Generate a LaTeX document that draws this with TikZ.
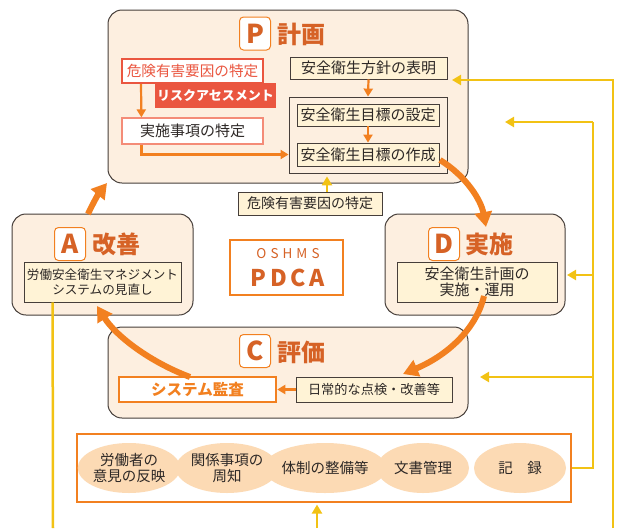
\documentclass[tikz,border=0pt]{standalone}
\usepackage{fontspec}
\setmainfont{Noto Sans CJK JP}
\usetikzlibrary{arrows.meta,shapes.geometric}
\definecolor{peach}{RGB}{253,239,224}
\definecolor{ylw}{RGB}{255,243,214}
\definecolor{ellc}{RGB}{252,218,180}
\definecolor{orng}{RGB}{242,128,32}
\definecolor{labc}{RGB}{214,98,38}
\definecolor{redc}{RGB}{234,86,64}
\definecolor{salm}{RGB}{244,140,120}
\definecolor{yel}{RGB}{242,194,20}
\definecolor{bgray}{RGB}{70,62,58}
\definecolor{txt}{RGB}{45,40,38}
\tikzset{
  phase/.style={draw=bgray, fill=peach, rounded corners=14pt, line width=1pt, inner sep=0pt},
  lab/.style={draw=orng, fill=white, rounded corners=4pt, line width=1pt, text=labc, font=\bfseries\fontsize{26}{26}\selectfont, minimum width=31pt, minimum height=33pt, inner sep=0pt},
  ttl/.style={text=labc, font=\bfseries\fontsize{24}{24}\selectfont, anchor=west, inner sep=0pt},
  ybox/.style={draw=bgray, fill=ylw, line width=0.8pt, inner sep=0pt, text=txt, font=\fontsize{15}{16}\selectfont, align=center},
  ell/.style={ellipse, fill=ellc, minimum width=92pt, minimum height=50pt, inner sep=0pt, text=txt, font=\fontsize{14.5}{16.5}\selectfont, align=center},
  oarr/.style={draw=orng, line width=2.2pt, -{Triangle[length=8pt,width=9pt]}},
  big/.style={draw=orng, line width=6pt, -{Triangle[length=15pt,width=17pt]}},
  yarr/.style={draw=yel, line width=2.5pt, -{Triangle[length=9pt,width=10pt]}},
  yline/.style={draw=yel, line width=2.5pt}
}
\begin{document}
\begin{tikzpicture}[x=1pt,y=-1pt]
\useasboundingbox (0,0) rectangle (619,528);
% phase boxes
\node[phase, minimum width=360pt, minimum height=173pt] (P) at (288,96.5) {};
\node[phase, minimum width=181pt, minimum height=101pt] (A) at (102.5,264.5) {};
\node[phase, minimum width=180pt, minimum height=101pt] (D) at (475,264.5) {};
\node[phase, minimum width=360pt, minimum height=91pt] (C) at (288,372.5) {};
% titles
\node[lab] (Pl) at (255,33.5) {P};
\node[ttl] (Pt) at (277,34) {計画};
\node[lab] (Al) at (70,244) {A};
\node[ttl] (At) at (92,244) {改善};
\node[lab] (Dl) at (444,244) {D};
\node[ttl] (Dt) at (465,244) {実施};
\node[lab] (Cl) at (255,351) {C};
\node[ttl] (Ct) at (277,352) {評価};
% P contents
\node[draw=redc, fill=white, line width=2pt, text=redc, font=\fontsize{14.6}{14.6}\selectfont, minimum width=141pt, minimum height=24pt, inner sep=0pt] (k1) at (192.5,71) {危険有害要因の特定};
\node[fill=redc, text=white, font=\bfseries\fontsize{13}{13}\selectfont, minimum width=121pt, minimum height=25pt, inner sep=0pt] (risk) at (215.5,95.5) {リスクアセスメント};
\node[draw=salm, fill=white, line width=1.2pt, text=txt, font=\fontsize{15}{15}\selectfont, minimum width=141pt, minimum height=26pt, inner sep=0pt] (jis) at (192.5,131) {実施事項の特定};
\node[ybox, minimum width=157pt, minimum height=22pt] (hos) at (368.5,68) {安全衛生方針の表明};
\node[draw=bgray, line width=0.8pt, minimum width=158pt, minimum height=76pt, inner sep=0pt] (grp) at (368,135) {};
\node[ybox, minimum width=142pt, minimum height=22pt] (set) at (368,115) {安全衛生目標の設定};
\node[ybox, minimum width=142pt, minimum height=23pt] (sak) at (368,154.5) {安全衛生目標の作成};
\node[ybox, minimum width=144pt, minimum height=23pt, font=\fontsize{14}{14}\selectfont] (k2) at (310,203.5) {危険有害要因の特定};
\draw[oarr] ([xshift=20pt]k1.south west) -- ([xshift=20pt]jis.north west);
\draw[oarr] ([xshift=20pt]jis.south west) |- (grp.west |- sak.center);
\draw[oarr] (hos.south) -- (grp.north);
\draw[oarr] (set.south) -- (sak.north);
\draw[yarr] ([xshift=17pt]k2.north) -- ([xshift=17pt,yshift=-3pt]k2.north |- grp.south);
% A, D contents
\node[ybox, minimum width=157pt, minimum height=40pt, font=\fontsize{12.6}{15}\selectfont] (Ab) at (102.5,282) {労働安全衛生マネジメント\\システムの見直し};
\node[ybox, minimum width=160pt, minimum height=40pt, font=\fontsize{15}{16.5}\selectfont] (Db) at (477,282) {安全衛生計画の\\実施・運用};
% PDCA
\node[draw=orng, fill=white, line width=1.5pt, minimum width=113pt, minimum height=55pt, inner sep=0pt] (pdca) at (286.5,267.5) {};
\node[text=labc, inner sep=0pt, font=\fontsize{13.5}{13.5}\selectfont] (osh) at (288,253.5) {\addfontfeatures{LetterSpace=30}OSHMS};
\node[text=labc, inner sep=0pt, font=\bfseries\fontsize{23}{23}\selectfont] (pd) at (288,277.5) {\addfontfeatures{LetterSpace=16}PDCA};
% C contents
\node[draw=orng, fill=white, line width=2.5pt, text=orng, font=\bfseries\fontsize{15.5}{15.5}\selectfont, minimum width=157pt, minimum height=25pt, inner sep=0pt] (kan) at (197.5,389.5) {システム監査};
\node[ybox, minimum width=156pt, minimum height=25pt, font=\fontsize{13.2}{13.2}\selectfont] (nic) at (374,389.5) {日常的な点検・改善等};
\draw[oarr] (nic.west) -- (kan.east);
% bottom frame
\node[draw=orng, fill=white, line width=1.2pt, minimum width=494pt, minimum height=68pt, inner sep=0pt] (fr) at (324,468) {};
\node[ell] (e1) at (129,468) {労働者の\\意見の反映};
\node[ell] (e2) at (227,468) {関係事項の\\周知};
\node[ell] (e3) at (325,468) {体制の整備等};
\node[ell] (e4) at (423,468) {文書管理};
\node[ell] (e5) at (520,468) {記　録};
% big cycle arrows
\draw[big] (440,160) .. controls (466,176) and (481,200) .. (486,227);
\draw[big] (484,296) .. controls (476,330) and (446,356) .. (403,374);
\draw[big] (190,377) .. controls (150,362) and (116,336) .. (97,306);
\draw[big] (88,214) .. controls (93,203) and (99,193) .. (107,183);
% yellow connectors
\coordinate (o1) at (613,528);
\coordinate (tp1) at (452,80);
\coordinate (tp2) at (505,122);
\coordinate (tp3) at (567,275);
\coordinate (tp4) at (480,377);
\coordinate (j1) at (593,122);
\coordinate (j2) at (593,468);
\coordinate (lb) at (53,528);
\coordinate (bb) at (317,528);
\draw[yarr] (o1) |- (tp1);
\draw[yline] (fr.east) -- (j2) -- (j1);
\draw[yarr] (j1) -- (tp2);
\draw[yarr] (j1 |- tp3) -- (tp3);
\draw[yarr] (j1 |- tp4) -- (tp4);
\draw[yline] ([xshift=29pt]Ab.south west) -- (lb);
\draw[yarr] (bb) -- ([yshift=-2pt]bb |- fr.south);
\end{tikzpicture}
\end{document}
